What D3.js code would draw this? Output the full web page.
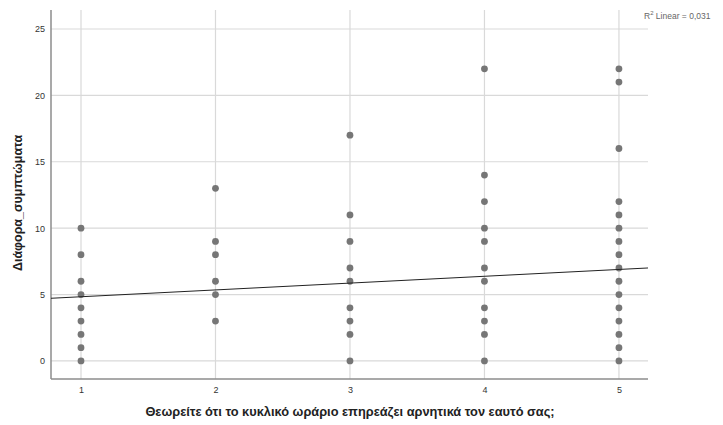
<!DOCTYPE html>
<html>
<head>
<meta charset="utf-8">
<script src="https://cdn.jsdelivr.net/npm/d3@7"></script>
<style>
  body { margin: 0; background: #fff; }
  text { font-family: "Liberation Sans", Arial, sans-serif; }
</style>
</head>
<body>
<div id="chart"></div>
<script>
// Values: one list of y values per x category
let xCategories = [1, 2, 3, 4, 5];
let yAt1 = [0, 1, 2, 3, 4, 5, 6, 8, 10];
let yAt2 = [3, 5, 6, 8, 9, 13];
let yAt3 = [0, 2, 3, 4, 6, 7, 9, 11, 17];
let yAt4 = [0, 2, 3, 4, 6, 7, 9, 10, 12, 14, 22];
let yAt5 = [0, 1, 2, 3, 4, 5, 6, 7, 8, 9, 10, 11, 12, 16, 21, 22];
let yTicks = [0, 5, 10, 15, 20, 25];
// Fit line as shown (intercept, slope) and its label
let fitIntercept = 4.32;
let fitSlope = 0.514;
let fitLabel = "0,031";

let xTitle = "Θεωρείτε ότι το κυκλικό ωράριο επηρεάζει αρνητικά τον εαυτό σας;";
let yTitle = "Διάφορα_συμπτώματα";

let columns = [yAt1, yAt2, yAt3, yAt4, yAt5];
let points = [];
columns.forEach(function(col, i) {
    col.forEach(function(v) { points.push({x: xCategories[i], y: v}); });
});

let width = 723, height = 425;
let plot = {left: 51, right: 648, top: 10, bottom: 379};

let svg = d3.select("#chart").append("svg")
    .attr("width", width)
    .attr("height", height);

let x = d3.scaleLinear().domain([0.777, 5.216]).range([plot.left, plot.right]);
let y = d3.scaleLinear().domain([-1.36, 26.43]).range([plot.bottom, plot.top]);

// Grid lines
svg.append("g")
    .selectAll("line")
    .data(yTicks)
    .enter().append("line")
    .attr("x1", plot.left).attr("x2", plot.right)
    .attr("y1", function(d) { return y(d); })
    .attr("y2", function(d) { return y(d); })
    .attr("stroke", "#d9d9d9")
    .attr("stroke-width", 1.2);

svg.append("g")
    .selectAll("line")
    .data(xCategories)
    .enter().append("line")
    .attr("y1", plot.top).attr("y2", plot.bottom)
    .attr("x1", function(d) { return x(d); })
    .attr("x2", function(d) { return x(d); })
    .attr("stroke", "#d9d9d9")
    .attr("stroke-width", 1.2);

// Axes
let yAxis = svg.append("g")
    .attr("transform", "translate(" + plot.left + ",0)")
    .call(d3.axisLeft(y).tickValues(yTicks).tickSize(0).tickPadding(6));
let xAxis = svg.append("g")
    .attr("transform", "translate(0," + plot.bottom + ")")
    .call(d3.axisBottom(x).tickValues(xCategories).tickFormat(d3.format("d")).tickSize(0).tickPadding(8));

[xAxis, yAxis].forEach(function(a) {
    a.select(".domain").remove();
    a.selectAll("text")
        .style("font-size", "9px")
        .attr("fill", "#333");
});

svg.append("line")
    .attr("x1", plot.left).attr("x2", plot.left)
    .attr("y1", plot.top).attr("y2", plot.bottom)
    .attr("stroke", "#8c8c8c").attr("stroke-width", 1.5);
svg.append("line")
    .attr("x1", plot.left).attr("x2", plot.right)
    .attr("y1", plot.bottom).attr("y2", plot.bottom)
    .attr("stroke", "#8c8c8c").attr("stroke-width", 1.5);

// Points
svg.append("g")
    .selectAll("circle")
    .data(points)
    .enter().append("circle")
    .attr("cx", function(d) { return x(d.x); })
    .attr("cy", function(d) { return y(d.y); })
    .attr("r", 3.4)
    .attr("fill", "#767676");

// Fit line across the plot
let x0 = x.domain()[0], x1 = x.domain()[1];
svg.append("line")
    .attr("x1", x(x0)).attr("y1", y(fitIntercept + fitSlope * x0))
    .attr("x2", x(x1)).attr("y2", y(fitIntercept + fitSlope * x1))
    .attr("stroke", "#222")
    .attr("stroke-width", 1);

// R squared label
let r2 = svg.append("text")
    .attr("x", 644)
    .attr("y", 19)
    .attr("fill", "#666")
    .style("font-size", "8.5px");
r2.append("tspan").text("R");
r2.append("tspan").attr("dy", -4).style("font-size", "6px").text("2");
r2.append("tspan").attr("dy", 4).text(" Linear = " + fitLabel);

// Axis titles
svg.append("text")
    .attr("x", 350)
    .attr("y", 416)
    .attr("text-anchor", "middle")
    .style("font-size", "12.8px")
    .style("font-weight", "bold")
    .attr("fill", "#222")
    .text(xTitle);

svg.append("text")
    .attr("transform", "translate(22,203) rotate(-90)")
    .attr("text-anchor", "middle")
    .style("font-size", "12.5px")
    .style("font-weight", "bold")
    .attr("fill", "#222")
    .text(yTitle);
</script>
</body>
</html>
